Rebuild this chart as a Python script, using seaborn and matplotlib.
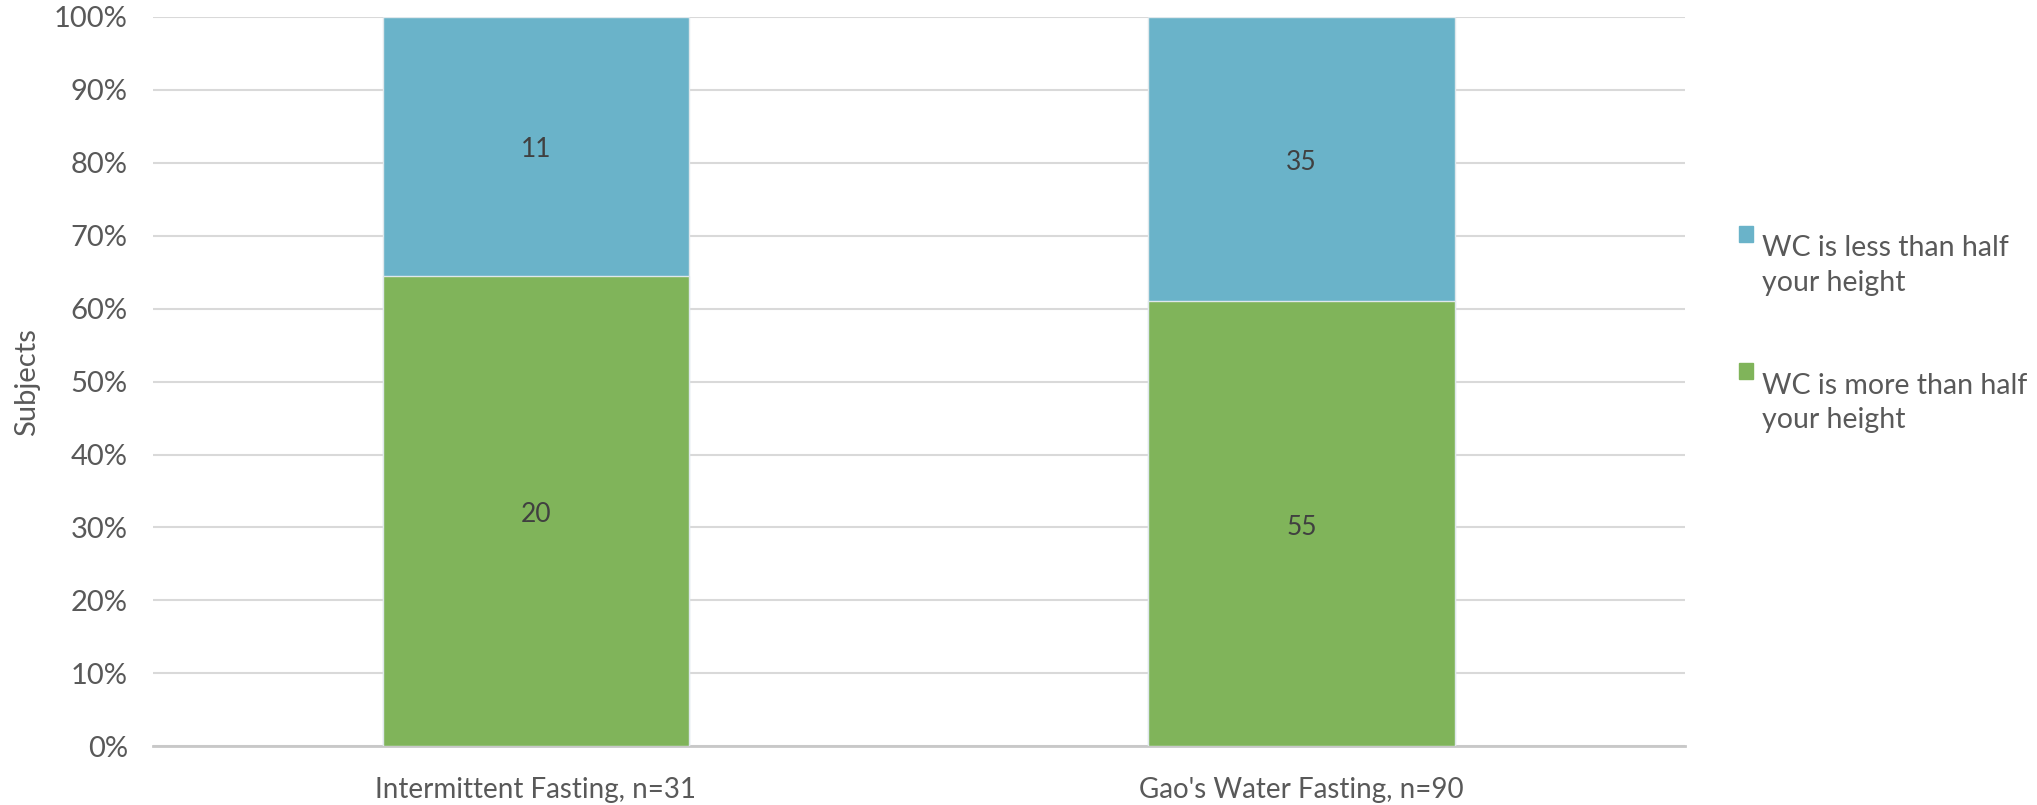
import pandas as pd
import matplotlib.pyplot as plt
import seaborn as sns
import matplotlib.patches as mpatches
from matplotlib.legend_handler import HandlerPatch

groups = ["Intermittent Fasting, n=31", "Gao's Water Fasting, n=90"]
more_than_half = [20, 55]
less_than_half = [11, 35]

df = pd.DataFrame({"group": groups, "more": more_than_half, "less": less_than_half})
df["total"] = df["more"] + df["less"]
df["more_pct"] = df["more"] / df["total"] * 100
df["top_pct"] = 100.0

blue = "#6ab3c9"
green = "#80b45a"
text_grey = "#595959"
fs = 19

sns.set_theme(style="white")
plt.rcParams["font.family"] = ["Lato", "DejaVu Sans"]

fig = plt.figure(figsize=(20.37, 8.05), dpi=100)
ax = fig.add_axes([0.075, 0.073, 0.752, 0.906])

sns.barplot(data=df, x="group", y="top_pct", color=blue, width=0.4, ax=ax,
            saturation=1, edgecolor="#dfe8ec", linewidth=1, zorder=3)
sns.barplot(data=df, x="group", y="more_pct", color=green, width=0.4, ax=ax,
            saturation=1, edgecolor="#dfe8ec", linewidth=1, zorder=3)

# segment labels
for i, row in df.iterrows():
    ax.text(i, row["more_pct"] / 2 - 0.5, str(row["more"]), ha="center", va="center",
            fontsize=fs, color="#404040", zorder=4)
    ax.text(i, (row["more_pct"] + 100) / 2 - 0.5, str(row["less"]), ha="center", va="center",
            fontsize=fs, color="#404040", zorder=4)

ax.set_ylim(0, 100)
ax.set_xlim(-0.5, 1.5)
ax.set_yticks(range(0, 101, 10))
ax.set_yticklabels([f"{v}%" for v in range(0, 101, 10)], fontsize=fs + 2, color=text_grey)
ax.tick_params(axis="x", labelsize=fs + 1, labelcolor=text_grey, pad=22, length=0)
ax.tick_params(axis="y", pad=18, length=0)
ax.yaxis.grid(True, color="#d9d9d9", linewidth=1.5, zorder=0)
ax.set_axisbelow(True)
ax.set_xlabel("")
ax.set_ylabel("Subjects", fontsize=fs + 2, color=text_grey, labelpad=10)
for s in ["top", "right", "left"]:
    ax.spines[s].set_visible(False)
ax.spines["bottom"].set_color("#c8c8c8")
ax.spines["bottom"].set_linewidth(2)

leg_fs = 20.5


def top_square(legend, orig_handle, xdescent, ydescent, width, height, fontsize):
    # put the square beside the first line of the two-line label
    return mpatches.Rectangle((-xdescent, -ydescent + fontsize * 1.12), width, height)


handles = [mpatches.Patch(color=blue, label="WC is less than half\nyour height"),
           mpatches.Patch(color=green, label="WC is more than half\nyour height")]
leg = fig.legend(handles=handles, loc="center left", bbox_to_anchor=(0.841, 0.585),
                 frameon=False, fontsize=leg_fs, labelcolor=text_grey, labelspacing=2.7,
                 handlelength=0.5, handleheight=0.5, handletextpad=0.3,
                 handler_map={mpatches.Patch: HandlerPatch(patch_func=top_square)})
for t in leg.get_texts():
    t.set_linespacing(1.4)

fig.savefig("out.png", dpi=100)
